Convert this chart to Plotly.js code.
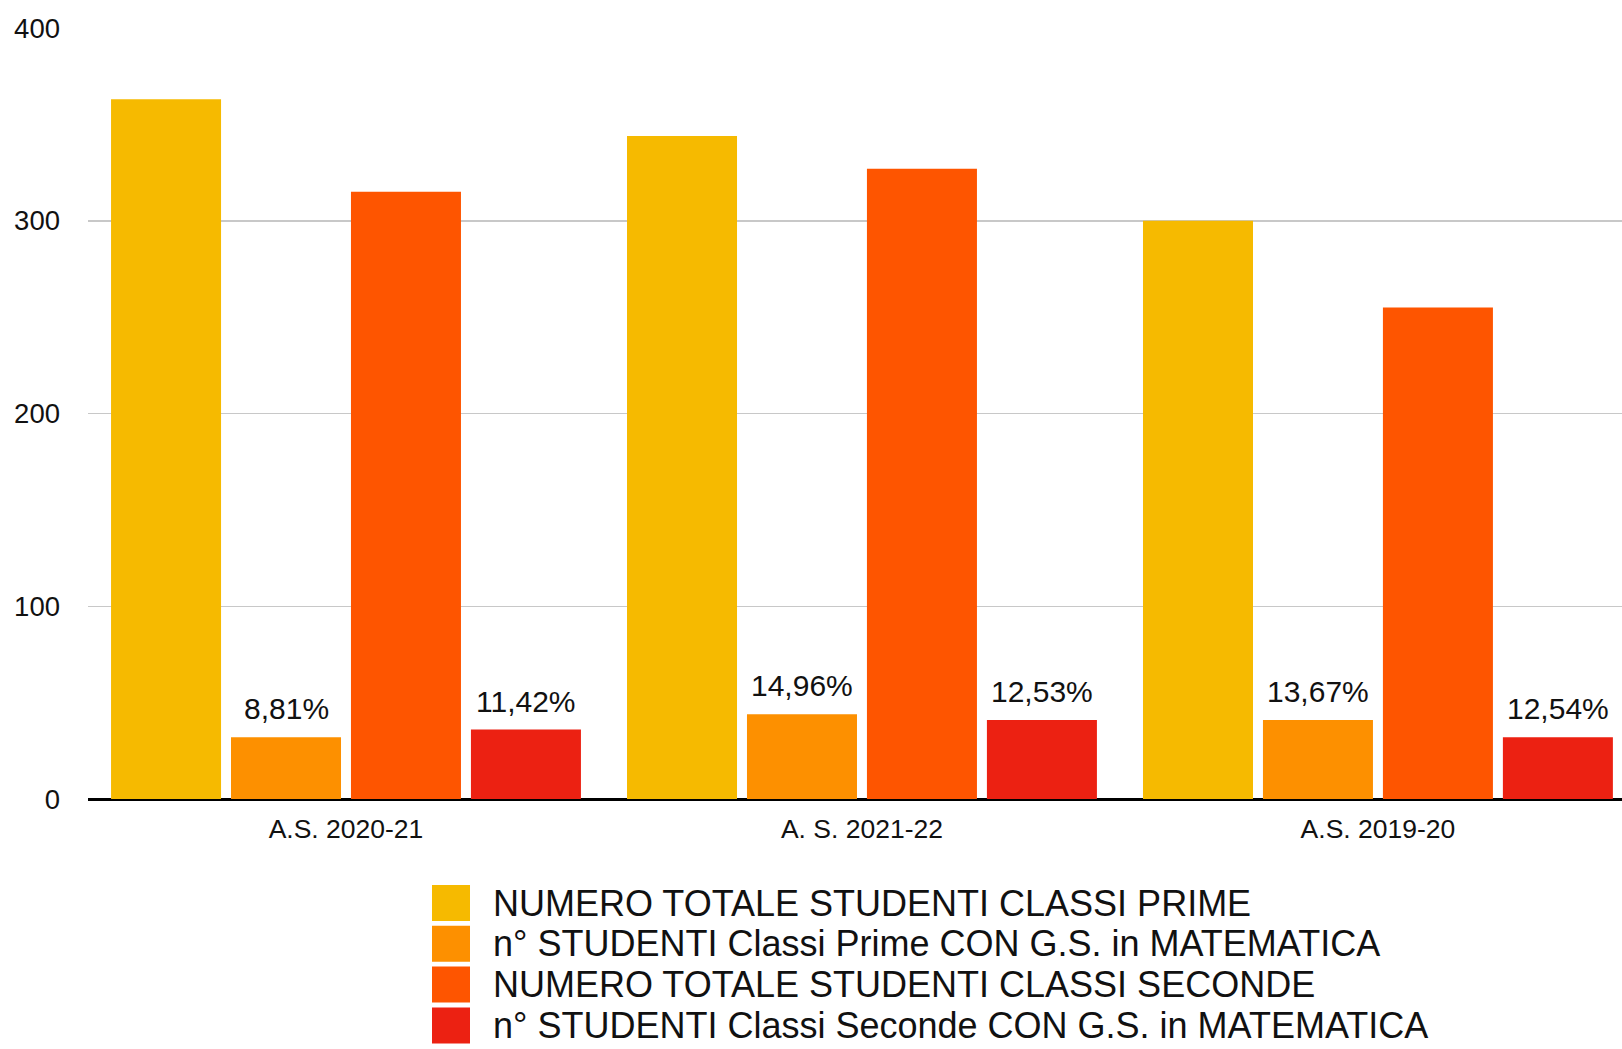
<!DOCTYPE html>
<html>
<head>
<meta charset="utf-8">
<script src="https://cdn.plot.ly/plotly-3.0.1.min.js"></script>
<style>
  html, body { margin: 0; padding: 0; background: #ffffff; overflow: hidden; }
  #chart { width: 1622px; height: 1049px; }
</style>
</head>
<body>
<div id="chart"></div>
<script>
// ---- data ----
const categories = ["A.S. 2020-21", "A. S. 2021-22", "A.S. 2019-20"];
const totalePrime = [363, 344, 300];
const gsPrime = [32, 44, 41];
const totaleSeconde = [315, 327, 255];
const gsSeconde = [36, 41, 32];
const labelsPrime = ["8,81%", "14,96%", "13,67%"];
const labelsSeconde = ["11,42%", "12,53%", "12,54%"];
const seriesNames = [
  "NUMERO TOTALE STUDENTI CLASSI PRIME",
  "n° STUDENTI Classi Prime CON G.S. in MATEMATICA",
  "NUMERO TOTALE STUDENTI CLASSI SECONDE",
  "n° STUDENTI Classi Seconde CON G.S. in MATEMATICA"
];
const yTicks = [0, 100, 200, 300, 400];

// ---- style ----
const colors = ["#F6BA00", "#FD9000", "#FE5500", "#EC2112"];
const FONT = "'Liberation Sans', Arial, Helvetica, sans-serif";
const W = 1622, H = 1049;
const M = { l: 88, r: 0, t: 28, b: 250 };
const plotW = W - M.l - M.r, plotH = H - M.t - M.b;
const bargap = 0.07, bargroupgap = 0.083;

const seriesValues = [totalePrime, gsPrime, totaleSeconde, gsSeconde];
const seriesLabels = [null, labelsPrime, null, labelsSeconde];

const traces = seriesValues.map((vals, i) => ({
  type: "bar",
  name: seriesNames[i],
  x: categories,
  y: vals,
  marker: { color: colors[i], line: { width: 0 } },
  hoverinfo: "x+y+name"
}));

const annotations = [];
// percentage labels above the G.S. bars
seriesLabels.forEach((labs, i) => {
  if (!labs) return;
  const off = (i - 1.5) * (1 - bargap) / 4;
  labs.forEach((t, k) => {
    annotations.push({
      xref: "x", yref: "y",
      x: k + off, y: seriesValues[i][k],
      text: t, showarrow: false,
      xanchor: "center", yanchor: "bottom", yshift: 10,
      font: { family: FONT, size: 30, color: "#111111" }
    });
  });
});

// manual legend (large colour squares as in the reference)
const px2x = px => (px - M.l) / plotW;
const py2y = py => (H - M.b - py) / plotH;
const shapes = [];
const rowTop0 = 885, rowPitch = 40.8, boxH = 36, boxL = 432, boxR = 470, textL = 491;
seriesNames.forEach((nm, i) => {
  const top = rowTop0 + i * rowPitch;
  shapes.push({
    type: "rect", xref: "paper", yref: "paper",
    x0: px2x(boxL), x1: px2x(boxR), y0: py2y(top + boxH), y1: py2y(top),
    fillcolor: colors[i], line: { width: 0 }, layer: "above"
  });
  annotations.push({
    xref: "paper", yref: "paper",
    x: px2x(textL), y: py2y(top + boxH / 2),
    text: nm, showarrow: false,
    xanchor: "left", yanchor: "middle",
    font: { family: FONT, size: 36, color: "#111111" }
  });
});

const layout = {
  width: W, height: H,
  margin: M,
  paper_bgcolor: "#ffffff",
  plot_bgcolor: "#ffffff",
  barmode: "group",
  bargap: bargap,
  bargroupgap: bargroupgap,
  showlegend: false,
  font: { family: FONT, color: "#111111" },
  xaxis: {
    type: "category",
    range: [-0.5, 2.473],
    showgrid: false,
    showline: false,
    zeroline: false,
    ticks: "",
    ticklabelstandoff: 11,
    tickfont: { family: FONT, size: 26.5, color: "#111111" },
    fixedrange: true
  },
  yaxis: {
    range: [0, 400],
    tickvals: yTicks,
    ticktext: yTicks.map(String),
    showgrid: true,
    gridcolor: "#c8c8c8",
    gridwidth: 1.5,
    zeroline: true,
    zerolinecolor: "#000000",
    zerolinewidth: 3,
    showline: false,
    ticks: "",
    ticklabelstandoff: 27,
    tickfont: { family: FONT, size: 27.5, color: "#111111" },
    fixedrange: true
  },
  annotations: annotations,
  shapes: shapes
};

Plotly.newPlot("chart", traces, layout, { displayModeBar: false, staticPlot: true });
</script>
</body>
</html>
